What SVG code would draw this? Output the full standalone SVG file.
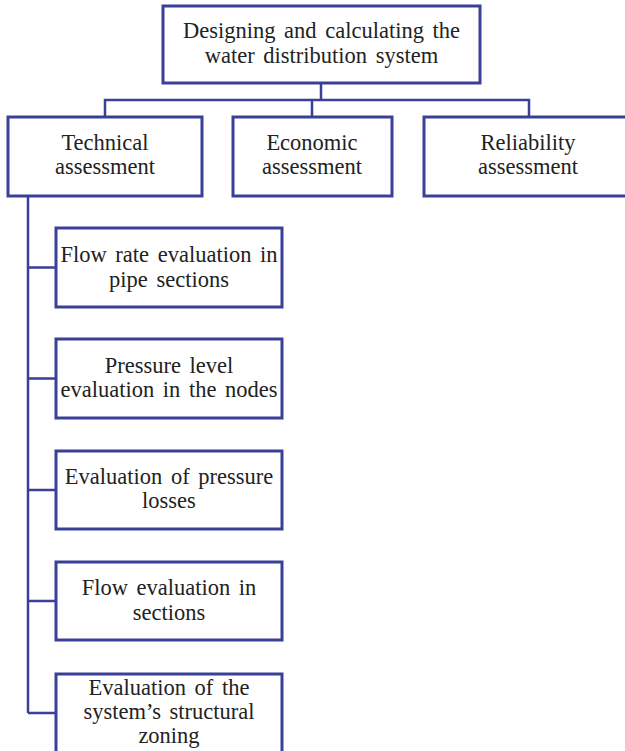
<svg xmlns="http://www.w3.org/2000/svg" width="625" height="751" viewBox="0 0 625 751">
<style>
.box{fill:#fff;stroke:#3a3f98;stroke-width:3}
.ln{fill:none;stroke:#3a3f98;stroke-width:2.5}
text{font-family:"Liberation Serif","Times New Roman",serif;font-size:22.5px;fill:#222;text-anchor:middle;word-spacing:3px}
</style>
<rect width="625" height="751" fill="#fff"/>
<g id="connectors">
<path class="ln" d="M321,83 V100 M105,117 V100 H529 V117 M312,100 V117"/>
<path class="ln" d="M28,196 V713 M28,267.5 H56 M28,378.5 H56 M28,490 H56 M28,601 H56 M28,713 H56"/>
</g>
<g id="root"><rect class="box" x="163" y="6" width="317" height="77"/>
<text x="321.5" y="38">Designing and calculating the</text><text x="321.5" y="63">water distribution system</text></g>
<g id="technical"><rect class="box" x="8" y="117" width="194" height="79"/>
<text x="105" y="150">Technical</text><text x="105" y="174">assessment</text></g>
<g id="economic"><rect class="box" x="233" y="117" width="159" height="79"/>
<text x="312" y="150">Economic</text><text x="312" y="174">assessment</text></g>
<g id="reliability"><rect class="box" x="424" y="117" width="210" height="79"/>
<text x="528" y="150">Reliability</text><text x="528" y="174">assessment</text></g>
<g id="flowrate"><rect class="box" x="56" y="228" width="226" height="79"/>
<text x="169" y="262">Flow rate evaluation in</text><text x="169" y="287">pipe sections</text></g>
<g id="pressure"><rect class="box" x="56" y="339" width="226" height="79"/>
<text x="169" y="373">Pressure level</text><text x="169" y="397">evaluation in the nodes</text></g>
<g id="losses"><rect class="box" x="56" y="451" width="226" height="78"/>
<text x="169" y="484">Evaluation of pressure</text><text x="169" y="508">losses</text></g>
<g id="flow"><rect class="box" x="56" y="562" width="226" height="78"/>
<text x="169" y="595">Flow evaluation in</text><text x="169" y="620">sections</text></g>
<g id="zoning"><rect class="box" x="56" y="674" width="226" height="90"/>
<text x="169" y="695">Evaluation of the</text><text x="169" y="719">system’s structural</text><text x="169" y="743">zoning</text></g>
</svg>
